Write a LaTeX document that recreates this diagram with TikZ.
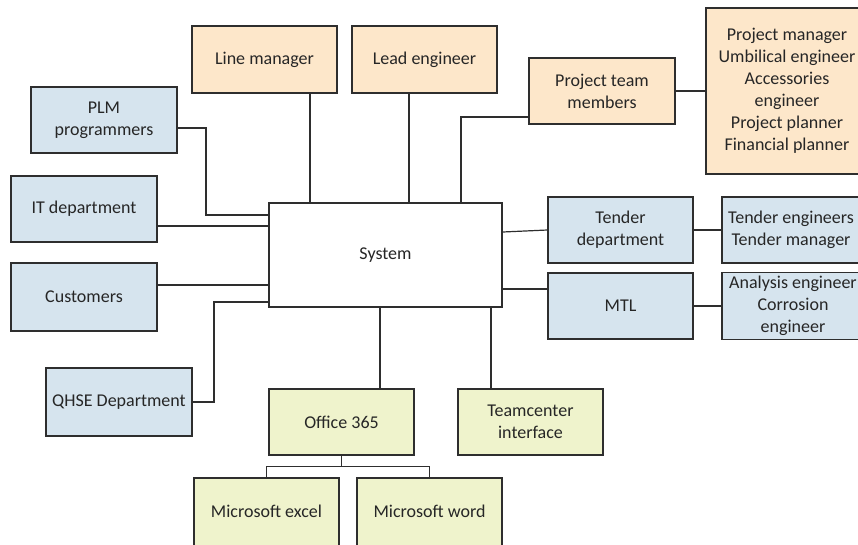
\documentclass[tikz,border=0pt]{standalone}
\usepackage{fontspec}
\setmainfont{Carlito}
\definecolor{orfill}{HTML}{FDE7CA}
\definecolor{blfill}{HTML}{D6E4EE}
\definecolor{grfill}{HTML}{EFF3CC}
\definecolor{edge}{HTML}{2E2E2E}
\begin{document}
\begin{tikzpicture}[x=1pt,y=-1pt,
  box/.style={draw=edge,line width=1.2pt,minimum width=145pt,minimum height=66pt,
    align=center,inner xsep=0pt,font=\fontsize{18}{22}\selectfont,text=black!85},
  orbox/.style={box,fill=orfill},
  blbox/.style={box,fill=blfill},
  grbox/.style={box,fill=grfill},
  conn/.style={draw=edge,line width=1.2pt}]
\useasboundingbox (0,0) rectangle (858,544);
\clip (0,0) rectangle (858,544);
% top
\node[orbox,minimum height=67pt] (lm) at (264.5,59.5) {Line manager};
\node[orbox,minimum height=67pt] (le) at (424.5,59.5) {Lead engineer};
\node[orbox,minimum width=146pt] (ptm) at (602,91) {Project team\\members};
\node[orbox,minimum width=162pt,minimum height=166pt] (big) at (787,91)
  {Project manager\\Umbilical engineer\\Accessories\\engineer\\Project planner\\Financial planner};
% left
\node[blbox,minimum width=146pt] (plm) at (104,120) {PLM\\programmers};
\node[blbox,minimum width=146pt] (it) at (84,209) {IT department};
\node[blbox,minimum width=146pt,minimum height=68pt] (cust) at (84,297) {Customers};
\node[blbox,minimum width=146pt,minimum height=68pt] (qhse) at (119,402) {QHSE Department};
% center
\node[box,fill=white,minimum width=233pt,minimum height=104pt] (sys) at (385.5,255) {System};
% right
\node[blbox] (tend) at (620.5,230) {Tender\\department};
\node[blbox] (mtl) at (620.5,306) {MTL};
\node[blbox,minimum width=138pt] (tendr) at (791,230) {Tender engineers\\Tender manager};
\node[blbox,minimum width=142pt] (anal) at (793,306) {Analysis engineer\\Corrosion\\engineer};
% bottom
\node[grbox] (office) at (341.5,422) {Office 365};
\node[grbox] (team) at (530.5,422) {Teamcenter\\interface};
\node[grbox,minimum height=80pt] (excel) at (266.5,518) {};
\node[grbox,minimum height=80pt] (word) at (429.5,518) {};
\node[font=\fontsize{18}{22}\selectfont,text=black!85] (exceltxt) at (266.5,511) {Microsoft excel};
\node[font=\fontsize{18}{22}\selectfont,text=black!85] (wordtxt) at (429.5,511) {Microsoft word};
% connectors
\draw[conn] (lm.south -| 310,0) -- (sys.north -| 310,0);
\draw[conn] (le.south -| 409,0) -- (sys.north -| 409,0);
\draw[conn] (sys.north -| 461,0) |- (ptm.west |- 0,117);
\draw[conn] (ptm.east) -- (big.west |- ptm.east);
\draw[conn] (plm.east |- 0,128) -| (206,215) -- (sys.west |- 0,215);
\draw[conn] (it.east |- 0,226) -- (sys.west |- 0,226);
\draw[conn] (cust.east |- 0,285) -- (sys.west |- 0,285);
\draw[conn] (qhse.east) -| (214,302) -- (sys.west |- 0,302);
\draw[conn] (sys.south -| 380,0) -- (office.north -| 380,0);
\draw[conn] (sys.south -| 491,0) -- (team.north -| 491,0);
\draw[conn] (office.south) -- ++(0,11) coordinate (ob);
\draw[conn] (excel.north) |- (ob) -| (word.north);
\draw[conn] (sys.east |- 0,232) -- (tend.west);
\draw[conn] (sys.east |- 0,289) -- (mtl.west |- 0,289);
\draw[conn] (tend.east) -- (tendr.west |- tend.east);
\draw[conn] (mtl.east) -- (anal.west |- mtl.east);
\end{tikzpicture}
\end{document}
